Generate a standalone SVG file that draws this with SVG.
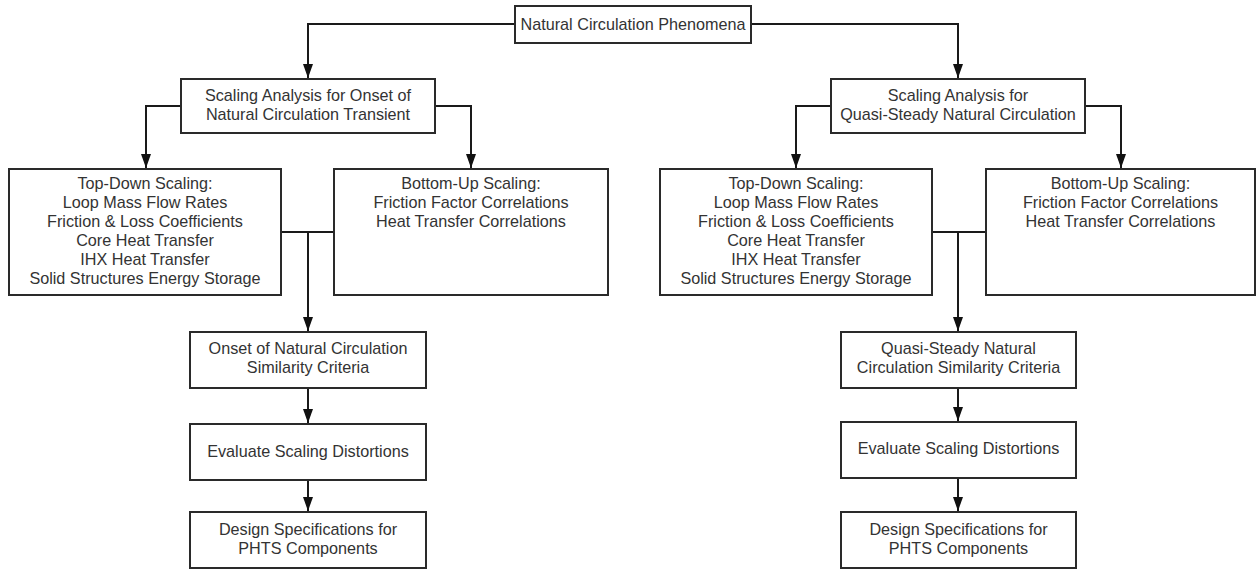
<svg xmlns="http://www.w3.org/2000/svg" width="1257" height="570" viewBox="0 0 1257 570">
<style>
.box{fill:#fff;stroke:#2a2a2a;stroke-width:2}
.t{font-family:"Liberation Sans",Arial,sans-serif;font-size:16.2px;fill:#333;text-anchor:middle}
.c{fill:none;stroke:#1a1a1a;stroke-width:2}
.a{marker-end:url(#ah)}
</style>
<defs>
<marker id="ah" viewBox="0 0 14 10" refX="14" refY="5" markerWidth="14" markerHeight="10" markerUnits="userSpaceOnUse" orient="auto">
<path d="M0,0 L14,5 L0,10 z" fill="#111"/>
</marker>
</defs>
<rect width="1257" height="570" fill="#fff"/>
<g id="connectors">
<path class="c a" d="M515,24 H308 V78"/>
<path class="c a" d="M751,24 H958 V78"/>
<path class="c a" d="M181,106 H146 V168"/>
<path class="c a" d="M435,106 H471 V168"/>
<path class="c a" d="M831,106 H796 V168"/>
<path class="c a" d="M1085,106 H1121 V168"/>
<path class="c" d="M281,232 H334"/>
<path class="c a" d="M308,232 V331"/>
<path class="c" d="M932,232 H986"/>
<path class="c a" d="M958,232 V331"/>
<path class="c a" d="M308,388 V423"/>
<path class="c a" d="M308,480 V511"/>
<path class="c a" d="M958,388 V421"/>
<path class="c a" d="M958,478 V511"/>
</g>
<g id="n-top"><rect class="box" x="515" y="6" width="236" height="37"/><text class="t" x="633" y="30">Natural Circulation Phenomena</text></g>
<g id="n-onset-analysis"><rect class="box" x="181" y="79" width="254" height="54"/><text class="t" x="308" y="100.5">Scaling Analysis for Onset of</text><text class="t" x="308" y="119.5">Natural Circulation Transient</text></g>
<g id="n-quasi-analysis"><rect class="box" x="831" y="79" width="254" height="54"/><text class="t" x="958" y="100.5">Scaling Analysis for</text><text class="t" x="958" y="119.5">Quasi-Steady Natural Circulation</text></g>
<g id="n-topdown-left"><rect class="box" x="9" y="169" width="272" height="126"/>
<text class="t" x="145" y="188.5">Top-Down Scaling:</text><text class="t" x="145" y="207.5">Loop Mass Flow Rates</text><text class="t" x="145" y="226.5">Friction &amp; Loss Coefficients</text><text class="t" x="145" y="245.5">Core Heat Transfer</text><text class="t" x="145" y="264.5">IHX Heat Transfer</text><text class="t" x="145" y="284">Solid Structures Energy Storage</text></g>
<g id="n-bottomup-left"><rect class="box" x="334" y="169" width="274" height="126"/>
<text class="t" x="471" y="188.5">Bottom-Up Scaling:</text><text class="t" x="471" y="207.5">Friction Factor Correlations</text><text class="t" x="471" y="226.5">Heat Transfer Correlations</text></g>
<g id="n-topdown-right"><rect class="box" x="660" y="169" width="272" height="126"/>
<text class="t" x="796" y="188.5">Top-Down Scaling:</text><text class="t" x="796" y="207.5">Loop Mass Flow Rates</text><text class="t" x="796" y="226.5">Friction &amp; Loss Coefficients</text><text class="t" x="796" y="245.5">Core Heat Transfer</text><text class="t" x="796" y="264.5">IHX Heat Transfer</text><text class="t" x="796" y="284">Solid Structures Energy Storage</text></g>
<g id="n-bottomup-right"><rect class="box" x="986" y="169" width="269" height="126"/>
<text class="t" x="1120.5" y="188.5">Bottom-Up Scaling:</text><text class="t" x="1120.5" y="207.5">Friction Factor Correlations</text><text class="t" x="1120.5" y="226.5">Heat Transfer Correlations</text></g>
<g id="n-onset-criteria"><rect class="box" x="190" y="332" width="236" height="56"/><text class="t" x="308" y="354">Onset of Natural Circulation</text><text class="t" x="308" y="373">Similarity Criteria</text></g>
<g id="n-eval-left"><rect class="box" x="190" y="424" width="236" height="56"/><text class="t" x="308" y="457">Evaluate Scaling Distortions</text></g>
<g id="n-design-left"><rect class="box" x="190" y="512" width="236" height="56"/><text class="t" x="308" y="535">Design Specifications for</text><text class="t" x="308" y="554">PHTS Components</text></g>
<g id="n-quasi-criteria"><rect class="box" x="841" y="332" width="235" height="56"/><text class="t" x="958.5" y="354">Quasi-Steady Natural</text><text class="t" x="958.5" y="373">Circulation Similarity Criteria</text></g>
<g id="n-eval-right"><rect class="box" x="841" y="422" width="235" height="56"/><text class="t" x="958.5" y="454">Evaluate Scaling Distortions</text></g>
<g id="n-design-right"><rect class="box" x="841" y="512" width="235" height="56"/><text class="t" x="958.5" y="535">Design Specifications for</text><text class="t" x="958.5" y="554">PHTS Components</text></g>
</svg>
